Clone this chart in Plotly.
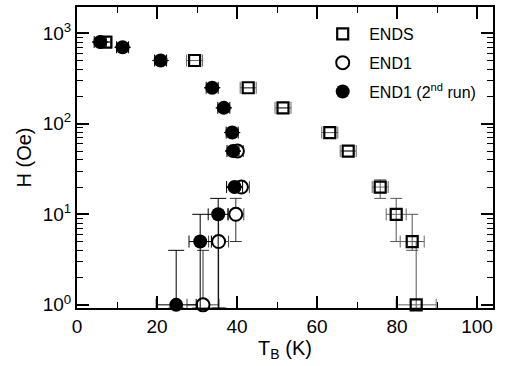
import plotly.graph_objects as go

# ---------------- data ----------------
ends_T = [7.2, 29.4, 42.8, 51.5, 63.2, 67.8, 75.8, 79.8, 83.8, 84.8]
ends_H = [800, 500, 250, 150, 80, 50, 20, 10, 5, 1]
ends_Terr = [1.5, 2.0, 2.0, 2.0, 2.0, 2.0, 2.0, 2.5, 3.0, 5.0]
ends_Hup = [0, 0, 0, 0, 0, 0, 4, 5, 5, 4]
ends_Hdn = [0, 0, 0, 0, 0, 0, 5, 5, 1, 0.08]

end1_T = [40.1, 41.1, 39.7, 35.4, 31.5]
end1_H = [50, 20, 10, 5, 1]
end1_Terr = [1.5, 2.0, 2.0, 2.5, 4.0]
end1_Hup = [0, 0, 5, 5, 3]
end1_Hdn = [0, 0, 5, 4.08, 0.08]

run2_T = [5.8, 11.4, 20.9, 33.8, 36.7, 38.8, 39.0, 39.4, 35.3, 30.8, 24.8]
run2_H = [800, 700, 500, 250, 150, 80, 50, 20, 10, 5, 1]
run2_Terr = [1.5, 1.5, 1.5, 1.5, 1.5, 1.5, 1.5, 2.0, 2.5, 2.8, 5.0]
run2_Hup = [0, 0, 0, 0, 0, 0, 0, 0, 5, 5, 3]
run2_Hdn = [0, 0, 0, 0, 0, 0, 0, 0, 9.08, 4.08, 0.08]

x_ticks = [0, 20, 40, 60, 80, 100]
y_ticks = [1, 10, 100, 1000]
y_ticktext = ["10<sup>0</sup>", "10<sup>1</sup>", "10<sup>2</sup>", "10<sup>3</sup>"]

FONT = "Liberation Sans, Arial, Helvetica, sans-serif"

fig = go.Figure()

fig.add_trace(go.Scatter(
    x=ends_T, y=ends_H, mode="markers", name="ENDS", legendgroup="a",
    marker=dict(symbol="square-open", size=11, color="black", line=dict(width=2.2, color="black")),
    error_x=dict(type="data", array=ends_Terr, color="#666666", thickness=1, width=6),
    error_y=dict(type="data", array=ends_Hup, arrayminus=ends_Hdn, symmetric=False,
                 color="#555555", thickness=1, width=6),
    cliponaxis=False,
))
fig.add_trace(go.Scatter(
    x=end1_T, y=end1_H, mode="markers", name="END1", legendgroup="b",
    marker=dict(symbol="circle", size=13, color="white", line=dict(width=2, color="black")),
    error_x=dict(type="data", array=end1_Terr, color="#444444", thickness=1, width=6),
    error_y=dict(type="data", array=end1_Hup, arrayminus=end1_Hdn, symmetric=False,
                 color="#333333", thickness=1, width=6),
    cliponaxis=False,
))
fig.add_trace(go.Scatter(
    x=run2_T, y=run2_H, mode="markers", name="END1 (2<sup>nd</sup> run)", legendgroup="c",
    marker=dict(symbol="circle", size=14, color="black", line=dict(width=0)),
    error_x=dict(type="data", array=run2_Terr, color="black", thickness=1, width=6),
    error_y=dict(type="data", array=run2_Hup, arrayminus=run2_Hdn, symmetric=False,
                 color="black", thickness=1, width=8),
    cliponaxis=False,
))

axis_common = dict(
    showline=True, linecolor="black", linewidth=2, mirror="allticks",
    ticks="inside", ticklen=12, tickwidth=1.5, tickcolor="black",
    showgrid=False, zeroline=False, automargin=False,
    tickfont=dict(family=FONT, size=19, color="black"),
)

fig.update_xaxes(
    **axis_common, range=[0, 104], tickvals=x_ticks,
    minor=dict(ticks="inside", ticklen=6, tickwidth=1, tickcolor="black", dtick=10, tick0=0),
    title=dict(text="T<sub>B</sub> (K)", font=dict(family=FONT, size=20, color="black"), standoff=4),
)
fig.update_yaxes(
    **axis_common, type="log", range=[-0.035, 3.29],
    tickvals=y_ticks, ticktext=y_ticktext,
    minor=dict(ticks="inside", ticklen=6, tickwidth=1, tickcolor="black", dtick="D1"),
    title=dict(text="H (Oe)", font=dict(family=FONT, size=20, color="black"), standoff=6),
)

fig.update_layout(
    width=505, height=366,
    margin=dict(l=77, r=12, t=7, b=58),
    plot_bgcolor="white", paper_bgcolor="white",
    font=dict(family=FONT, color="black"),
    legend=dict(x=0.575, y=0.967, xanchor="left", yanchor="top",
                font=dict(family=FONT, size=16, color="black"),
                bgcolor="rgba(0,0,0,0)", tracegroupgap=5, itemwidth=43),
)

fig.write_html(
    "out.html",
    config={"displayModeBar": False},
    post_script="document.body.style.margin='0';document.body.style.overflow='hidden';",
)
